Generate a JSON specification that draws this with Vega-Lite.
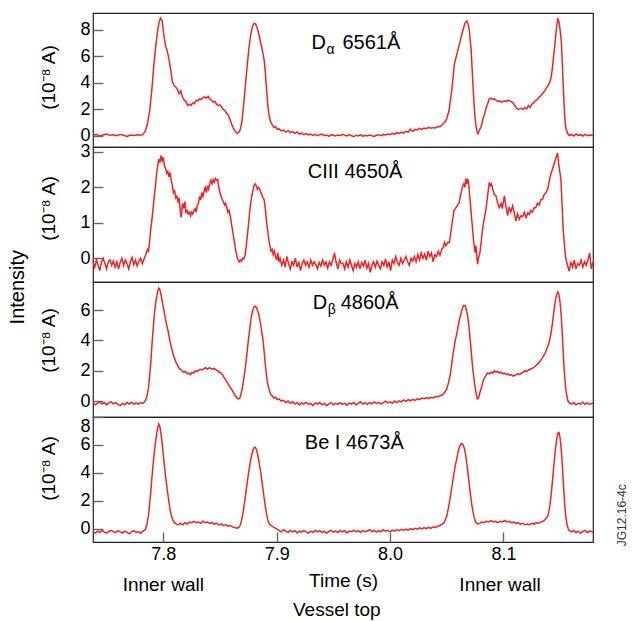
{
"$schema":"https://vega.github.io/schema/vega-lite/v6.json",
"padding":{"left":7,"top":12,"right":0,"bottom":0},
"bounds":"flush",
"spacing":0,
"config":{"font":"Liberation Sans","view":{"stroke":"#222","strokeWidth":1.2},
"axis":{"grid":false,"domain":false,"tickSize":-10,"tickColor":"#666","tickWidth":1.4,"labelFontSize":18,"labelColor":"#000","labelPadding":13,"titleFontSize":19,"titleFontWeight":"normal","titleColor":"#000","labelOverlap":false}},
"datasets":{
"da":[{"t":7.738,"v":0.05},{"t":7.741,"v":0.12},{"t":7.744,"v":-0.02},{"t":7.747,"v":0.08},{"t":7.75,"v":0.15},{"t":7.753,"v":0.05},{"t":7.756,"v":0.1},{"t":7.759,"v":0.02},{"t":7.762,"v":0.12},{"t":7.765,"v":0.06},{"t":7.768,"v":-0.03},{"t":7.771,"v":0.08},{"t":7.774,"v":0.04},{"t":7.777,"v":0.1},{"t":7.78,"v":0.05},{"t":7.782,"v":0.12},{"t":7.784,"v":0.35},{"t":7.786,"v":0.9},{"t":7.788,"v":1.9},{"t":7.79,"v":3.6},{"t":7.7915,"v":5.2},{"t":7.793,"v":6.5},{"t":7.7945,"v":7.6},{"t":7.796,"v":8.5},{"t":7.7975,"v":8.9},{"t":7.799,"v":8.7},{"t":7.8005,"v":7.6},{"t":7.802,"v":6.8},{"t":7.8035,"v":6.4},{"t":7.805,"v":5.8},{"t":7.8065,"v":5.0},{"t":7.808,"v":4.1},{"t":7.8095,"v":3.8},{"t":7.811,"v":3.7},{"t":7.8125,"v":3.5},{"t":7.814,"v":3.2},{"t":7.8155,"v":3.4},{"t":7.817,"v":2.9},{"t":7.8185,"v":2.7},{"t":7.82,"v":2.6},{"t":7.8215,"v":2.3},{"t":7.823,"v":2.4},{"t":7.8245,"v":2.3},{"t":7.826,"v":2.5},{"t":7.8275,"v":2.45},{"t":7.829,"v":2.7},{"t":7.8305,"v":2.65},{"t":7.832,"v":2.8},{"t":7.8335,"v":2.75},{"t":7.835,"v":2.9},{"t":7.8365,"v":2.95},{"t":7.838,"v":2.85},{"t":7.8395,"v":3.0},{"t":7.841,"v":2.8},{"t":7.8425,"v":2.7},{"t":7.844,"v":2.55},{"t":7.8455,"v":2.6},{"t":7.847,"v":2.4},{"t":7.8485,"v":2.3},{"t":7.85,"v":2.35},{"t":7.8515,"v":2.15},{"t":7.853,"v":2.0},{"t":7.8545,"v":1.9},{"t":7.856,"v":1.7},{"t":7.8575,"v":1.55},{"t":7.859,"v":1.2},{"t":7.8605,"v":0.85},{"t":7.862,"v":0.55},{"t":7.8635,"v":0.35},{"t":7.865,"v":0.2},{"t":7.8665,"v":0.25},{"t":7.868,"v":0.5},{"t":7.8695,"v":1.2},{"t":7.871,"v":2.5},{"t":7.8725,"v":3.9},{"t":7.874,"v":5.3},{"t":7.8755,"v":6.6},{"t":7.877,"v":7.6},{"t":7.8785,"v":8.2},{"t":7.88,"v":8.5},{"t":7.8815,"v":8.45},{"t":7.883,"v":8.1},{"t":7.8845,"v":7.6},{"t":7.886,"v":7.0},{"t":7.8875,"v":6.4},{"t":7.889,"v":5.7},{"t":7.89,"v":4.8},{"t":7.891,"v":3.6},{"t":7.892,"v":2.5},{"t":7.893,"v":1.7},{"t":7.8945,"v":1.1},{"t":7.896,"v":0.85},{"t":7.8975,"v":0.65},{"t":7.899,"v":0.7},{"t":7.9005,"v":0.5},{"t":7.902,"v":0.55},{"t":7.904,"v":0.38},{"t":7.906,"v":0.45},{"t":7.908,"v":0.3},{"t":7.91,"v":0.4},{"t":7.912,"v":0.25},{"t":7.914,"v":0.35},{"t":7.916,"v":0.2},{"t":7.918,"v":0.3},{"t":7.92,"v":0.15},{"t":7.922,"v":0.22},{"t":7.924,"v":0.1},{"t":7.926,"v":0.18},{"t":7.928,"v":0.08},{"t":7.93,"v":0.15},{"t":7.932,"v":0.05},{"t":7.934,"v":0.12},{"t":7.936,"v":0.02},{"t":7.938,"v":0.1},{"t":7.94,"v":0.15},{"t":7.942,"v":0.03},{"t":7.944,"v":0.08},{"t":7.946,"v":-0.02},{"t":7.948,"v":0.1},{"t":7.95,"v":0.05},{"t":7.952,"v":0.0},{"t":7.954,"v":0.08},{"t":7.956,"v":0.02},{"t":7.958,"v":0.12},{"t":7.96,"v":0.05},{"t":7.962,"v":0.0},{"t":7.964,"v":0.1},{"t":7.966,"v":0.02},{"t":7.968,"v":-0.05},{"t":7.97,"v":0.06},{"t":7.972,"v":0.0},{"t":7.974,"v":0.1},{"t":7.976,"v":-0.03},{"t":7.978,"v":0.05},{"t":7.98,"v":0.0},{"t":7.982,"v":0.08},{"t":7.984,"v":0.02},{"t":7.986,"v":-0.03},{"t":7.988,"v":0.06},{"t":7.99,"v":0.1},{"t":7.992,"v":0.03},{"t":7.994,"v":0.12},{"t":7.996,"v":0.08},{"t":7.998,"v":0.15},{"t":8.0,"v":0.1},{"t":8.002,"v":0.2},{"t":8.004,"v":0.12},{"t":8.006,"v":0.25},{"t":8.008,"v":0.2},{"t":8.01,"v":0.3},{"t":8.012,"v":0.22},{"t":8.014,"v":0.35},{"t":8.016,"v":0.3},{"t":8.018,"v":0.5},{"t":8.02,"v":0.35},{"t":8.022,"v":0.5},{"t":8.024,"v":0.45},{"t":8.026,"v":0.58},{"t":8.028,"v":0.5},{"t":8.03,"v":0.6},{"t":8.032,"v":0.55},{"t":8.034,"v":0.65},{"t":8.036,"v":0.58},{"t":8.038,"v":0.63},{"t":8.04,"v":0.6},{"t":8.042,"v":0.72},{"t":8.044,"v":0.7},{"t":8.046,"v":0.85},{"t":8.048,"v":1.0},{"t":8.05,"v":1.3},{"t":8.052,"v":1.9},{"t":8.0545,"v":3.5},{"t":8.0567,"v":5.4},{"t":8.0596,"v":6.4},{"t":8.062,"v":7.2},{"t":8.064,"v":7.9},{"t":8.066,"v":8.5},{"t":8.0676,"v":8.68},{"t":8.069,"v":8.4},{"t":8.07,"v":7.9},{"t":8.0715,"v":6.5},{"t":8.0728,"v":4.4},{"t":8.074,"v":2.5},{"t":8.0752,"v":1.13},{"t":8.0765,"v":0.4},{"t":8.0775,"v":0.17},{"t":8.079,"v":0.45},{"t":8.0805,"v":0.75},{"t":8.082,"v":1.3},{"t":8.0835,"v":1.7},{"t":8.085,"v":2.2},{"t":8.086,"v":2.4},{"t":8.0875,"v":2.8},{"t":8.089,"v":2.85},{"t":8.0905,"v":2.75},{"t":8.092,"v":2.8},{"t":8.0935,"v":2.7},{"t":8.095,"v":2.6},{"t":8.0965,"v":2.65},{"t":8.098,"v":2.55},{"t":8.0995,"v":2.6},{"t":8.101,"v":2.65},{"t":8.1025,"v":2.6},{"t":8.104,"v":2.7},{"t":8.1055,"v":2.65},{"t":8.107,"v":2.6},{"t":8.1085,"v":2.5},{"t":8.11,"v":2.3},{"t":8.1115,"v":2.1},{"t":8.113,"v":2.0},{"t":8.1145,"v":2.05},{"t":8.116,"v":2.1},{"t":8.1175,"v":2.0},{"t":8.119,"v":2.15},{"t":8.1205,"v":2.05},{"t":8.122,"v":2.3},{"t":8.1235,"v":2.15},{"t":8.125,"v":2.4},{"t":8.1265,"v":2.5},{"t":8.128,"v":2.65},{"t":8.1295,"v":2.7},{"t":8.131,"v":2.9},{"t":8.1325,"v":3.0},{"t":8.134,"v":3.15},{"t":8.1355,"v":3.3},{"t":8.137,"v":3.5},{"t":8.1385,"v":3.7},{"t":8.14,"v":3.9},{"t":8.141,"v":4.1},{"t":8.142,"v":4.4},{"t":8.143,"v":5.0},{"t":8.144,"v":5.8},{"t":8.145,"v":6.6},{"t":8.146,"v":7.5},{"t":8.147,"v":8.3},{"t":8.148,"v":8.88},{"t":8.149,"v":8.6},{"t":8.15,"v":8.0},{"t":8.151,"v":7.2},{"t":8.152,"v":5.4},{"t":8.153,"v":3.3},{"t":8.154,"v":1.5},{"t":8.155,"v":0.6},{"t":8.1565,"v":0.2},{"t":8.158,"v":0.05},{"t":8.16,"v":0.1},{"t":8.162,"v":0.0},{"t":8.164,"v":0.15},{"t":8.166,"v":0.05},{"t":8.168,"v":0.1},{"t":8.17,"v":0.0},{"t":8.172,"v":0.12},{"t":8.174,"v":0.03},{"t":8.176,"v":0.08},{"t":8.179,"v":0.05}],
"c3":[{"t":7.738,"v":-0.1},{"t":7.7395,"v":-0.25},{"t":7.741,"v":-0.05},{"t":7.7425,"v":-0.2},{"t":7.744,"v":-0.35},{"t":7.7455,"v":-0.1},{"t":7.747,"v":0.0},{"t":7.7485,"v":-0.15},{"t":7.75,"v":-0.3},{"t":7.7515,"v":-0.1},{"t":7.753,"v":-0.05},{"t":7.7545,"v":-0.2},{"t":7.756,"v":-0.08},{"t":7.7575,"v":-0.25},{"t":7.759,"v":-0.1},{"t":7.7605,"v":-0.3},{"t":7.762,"v":-0.12},{"t":7.7635,"v":0.0},{"t":7.765,"v":-0.2},{"t":7.7665,"v":-0.05},{"t":7.768,"v":-0.15},{"t":7.7695,"v":-0.3},{"t":7.771,"v":-0.1},{"t":7.7725,"v":0.02},{"t":7.774,"v":-0.18},{"t":7.7755,"v":-0.05},{"t":7.777,"v":-0.22},{"t":7.7785,"v":-0.08},{"t":7.78,"v":0.0},{"t":7.7815,"v":-0.15},{"t":7.783,"v":-0.02},{"t":7.7845,"v":0.1},{"t":7.786,"v":0.25},{"t":7.787,"v":0.2},{"t":7.788,"v":0.5},{"t":7.789,"v":0.85},{"t":7.79,"v":1.1},{"t":7.791,"v":1.4},{"t":7.792,"v":1.75},{"t":7.793,"v":2.0},{"t":7.794,"v":2.35},{"t":7.795,"v":2.6},{"t":7.796,"v":2.8},{"t":7.797,"v":2.7},{"t":7.798,"v":2.9},{"t":7.799,"v":2.75},{"t":7.8,"v":2.85},{"t":7.801,"v":2.6},{"t":7.802,"v":2.55},{"t":7.803,"v":2.4},{"t":7.804,"v":2.45},{"t":7.805,"v":2.3},{"t":7.806,"v":2.42},{"t":7.807,"v":2.2},{"t":7.808,"v":2.05},{"t":7.809,"v":1.85},{"t":7.81,"v":1.9},{"t":7.811,"v":1.7},{"t":7.812,"v":1.75},{"t":7.813,"v":1.6},{"t":7.814,"v":1.7},{"t":7.815,"v":1.35},{"t":7.8158,"v":1.15},{"t":7.817,"v":1.55},{"t":7.818,"v":1.4},{"t":7.819,"v":1.6},{"t":7.82,"v":1.3},{"t":7.821,"v":1.35},{"t":7.822,"v":1.25},{"t":7.823,"v":1.3},{"t":7.824,"v":1.2},{"t":7.825,"v":1.3},{"t":7.826,"v":1.25},{"t":7.827,"v":1.35},{"t":7.828,"v":1.4},{"t":7.829,"v":1.3},{"t":7.83,"v":1.5},{"t":7.831,"v":1.55},{"t":7.832,"v":1.75},{"t":7.833,"v":1.65},{"t":7.834,"v":1.85},{"t":7.835,"v":1.75},{"t":7.836,"v":1.9},{"t":7.837,"v":2.0},{"t":7.838,"v":1.85},{"t":7.839,"v":2.05},{"t":7.84,"v":1.95},{"t":7.841,"v":2.1},{"t":7.842,"v":2.2},{"t":7.843,"v":2.1},{"t":7.844,"v":2.22},{"t":7.845,"v":2.15},{"t":7.846,"v":2.25},{"t":7.847,"v":2.2},{"t":7.848,"v":2.22},{"t":7.849,"v":2.0},{"t":7.85,"v":1.85},{"t":7.851,"v":1.75},{"t":7.852,"v":1.65},{"t":7.853,"v":1.6},{"t":7.854,"v":1.5},{"t":7.855,"v":1.55},{"t":7.856,"v":1.45},{"t":7.857,"v":1.3},{"t":7.858,"v":1.35},{"t":7.859,"v":1.2},{"t":7.86,"v":1.0},{"t":7.861,"v":0.8},{"t":7.862,"v":0.6},{"t":7.863,"v":0.4},{"t":7.864,"v":0.2},{"t":7.865,"v":0.05},{"t":7.866,"v":-0.05},{"t":7.867,"v":-0.1},{"t":7.868,"v":-0.05},{"t":7.869,"v":-0.08},{"t":7.87,"v":0.0},{"t":7.871,"v":-0.02},{"t":7.872,"v":0.06},{"t":7.873,"v":0.3},{"t":7.874,"v":0.6},{"t":7.875,"v":0.9},{"t":7.876,"v":1.25},{"t":7.877,"v":1.55},{"t":7.878,"v":1.75},{"t":7.879,"v":1.9},{"t":7.88,"v":2.05},{"t":7.881,"v":2.1},{"t":7.882,"v":2.05},{"t":7.883,"v":1.95},{"t":7.884,"v":2.0},{"t":7.885,"v":1.95},{"t":7.886,"v":1.85},{"t":7.887,"v":1.8},{"t":7.888,"v":1.7},{"t":7.889,"v":1.65},{"t":7.89,"v":1.4},{"t":7.891,"v":1.05},{"t":7.892,"v":0.8},{"t":7.893,"v":0.55},{"t":7.894,"v":0.35},{"t":7.895,"v":0.2},{"t":7.896,"v":0.25},{"t":7.897,"v":0.1},{"t":7.898,"v":0.2},{"t":7.899,"v":0.05},{"t":7.9,"v":-0.05},{"t":7.901,"v":0.15},{"t":7.902,"v":-0.1},{"t":7.903,"v":0.0},{"t":7.9045,"v":-0.2},{"t":7.906,"v":-0.05},{"t":7.9075,"v":-0.25},{"t":7.909,"v":0.05},{"t":7.9105,"v":-0.15},{"t":7.912,"v":-0.3},{"t":7.9135,"v":-0.1},{"t":7.915,"v":-0.2},{"t":7.9165,"v":0.0},{"t":7.918,"v":-0.25},{"t":7.9195,"v":-0.1},{"t":7.921,"v":-0.35},{"t":7.9225,"v":-0.15},{"t":7.924,"v":-0.05},{"t":7.9255,"v":-0.2},{"t":7.927,"v":-0.1},{"t":7.9285,"v":-0.25},{"t":7.93,"v":-0.05},{"t":7.9315,"v":-0.2},{"t":7.933,"v":-0.1},{"t":7.9345,"v":-0.18},{"t":7.936,"v":-0.3},{"t":7.9375,"v":-0.12},{"t":7.939,"v":-0.22},{"t":7.9405,"v":-0.05},{"t":7.942,"v":-0.2},{"t":7.9435,"v":-0.1},{"t":7.945,"v":-0.28},{"t":7.9465,"v":-0.1},{"t":7.948,"v":-0.2},{"t":7.9495,"v":-0.05},{"t":7.951,"v":0.15},{"t":7.9525,"v":-0.12},{"t":7.954,"v":-0.3},{"t":7.9555,"v":-0.05},{"t":7.957,"v":-0.15},{"t":7.9585,"v":-0.15},{"t":7.96,"v":-0.3},{"t":7.9615,"v":-0.1},{"t":7.963,"v":-0.25},{"t":7.9645,"v":-0.05},{"t":7.966,"v":-0.2},{"t":7.9675,"v":-0.35},{"t":7.969,"v":-0.15},{"t":7.9705,"v":-0.25},{"t":7.972,"v":-0.1},{"t":7.9735,"v":-0.3},{"t":7.975,"v":-0.12},{"t":7.9765,"v":-0.22},{"t":7.978,"v":-0.05},{"t":7.9795,"v":-0.28},{"t":7.981,"v":-0.15},{"t":7.9825,"v":-0.4},{"t":7.984,"v":-0.2},{"t":7.9855,"v":-0.1},{"t":7.987,"v":-0.25},{"t":7.9885,"v":-0.08},{"t":7.99,"v":-0.2},{"t":7.9915,"v":-0.3},{"t":7.993,"v":-0.1},{"t":7.9945,"v":-0.2},{"t":7.996,"v":-0.02},{"t":7.9975,"v":-0.25},{"t":7.999,"v":-0.1},{"t":8.0005,"v":-0.35},{"t":8.002,"v":-0.05},{"t":8.0035,"v":-0.15},{"t":8.005,"v":0.05},{"t":8.0065,"v":-0.12},{"t":8.008,"v":-0.2},{"t":8.0095,"v":0.0},{"t":8.011,"v":-0.15},{"t":8.0125,"v":-0.05},{"t":8.014,"v":0.05},{"t":8.0155,"v":-0.1},{"t":8.017,"v":-0.2},{"t":8.0185,"v":0.0},{"t":8.02,"v":-0.08},{"t":8.0215,"v":0.05},{"t":8.023,"v":-0.1},{"t":8.0245,"v":0.1},{"t":8.026,"v":-0.05},{"t":8.0275,"v":0.15},{"t":8.029,"v":0.0},{"t":8.0305,"v":0.12},{"t":8.032,"v":-0.05},{"t":8.0335,"v":0.2},{"t":8.035,"v":0.05},{"t":8.0365,"v":0.15},{"t":8.038,"v":-0.1},{"t":8.0395,"v":0.1},{"t":8.041,"v":0.05},{"t":8.0425,"v":0.2},{"t":8.044,"v":0.08},{"t":8.0455,"v":0.25},{"t":8.047,"v":0.3},{"t":8.048,"v":0.45},{"t":8.0493,"v":0.35},{"t":8.051,"v":0.45},{"t":8.0523,"v":0.44},{"t":8.0535,"v":0.7},{"t":8.0552,"v":1.1},{"t":8.0565,"v":1.35},{"t":8.0581,"v":1.43},{"t":8.0595,"v":1.5},{"t":8.061,"v":1.57},{"t":8.062,"v":1.75},{"t":8.063,"v":1.9},{"t":8.064,"v":2.04},{"t":8.065,"v":2.1},{"t":8.066,"v":2.0},{"t":8.0668,"v":2.25},{"t":8.0676,"v":2.1},{"t":8.0685,"v":2.25},{"t":8.0695,"v":2.05},{"t":8.07,"v":1.85},{"t":8.071,"v":1.5},{"t":8.072,"v":1.1},{"t":8.0728,"v":0.82},{"t":8.0738,"v":0.45},{"t":8.075,"v":0.16},{"t":8.0758,"v":0.35},{"t":8.0765,"v":0.05},{"t":8.0772,"v":-0.17},{"t":8.078,"v":0.0},{"t":8.0793,"v":0.16},{"t":8.0805,"v":0.5},{"t":8.0816,"v":0.82},{"t":8.083,"v":1.1},{"t":8.0846,"v":1.38},{"t":8.086,"v":1.75},{"t":8.0875,"v":2.14},{"t":8.0885,"v":2.05},{"t":8.0895,"v":2.1},{"t":8.0905,"v":1.95},{"t":8.092,"v":1.8},{"t":8.0934,"v":1.76},{"t":8.095,"v":1.55},{"t":8.0963,"v":1.43},{"t":8.098,"v":1.55},{"t":8.099,"v":1.4},{"t":8.1008,"v":1.76},{"t":8.102,"v":1.5},{"t":8.1037,"v":1.2},{"t":8.105,"v":1.45},{"t":8.1065,"v":1.3},{"t":8.1081,"v":1.48},{"t":8.1095,"v":1.3},{"t":8.111,"v":1.05},{"t":8.1125,"v":1.25},{"t":8.114,"v":1.1},{"t":8.1155,"v":1.2},{"t":8.117,"v":1.18},{"t":8.1185,"v":1.3},{"t":8.12,"v":1.15},{"t":8.1215,"v":1.28},{"t":8.1228,"v":1.24},{"t":8.124,"v":1.35},{"t":8.1255,"v":1.3},{"t":8.127,"v":1.42},{"t":8.1286,"v":1.43},{"t":8.13,"v":1.55},{"t":8.1315,"v":1.5},{"t":8.133,"v":1.65},{"t":8.1345,"v":1.67},{"t":8.136,"v":1.8},{"t":8.1375,"v":1.85},{"t":8.139,"v":1.95},{"t":8.1405,"v":2.2},{"t":8.142,"v":2.4},{"t":8.1433,"v":2.51},{"t":8.145,"v":2.7},{"t":8.1465,"v":2.85},{"t":8.1477,"v":2.97},{"t":8.149,"v":2.6},{"t":8.1507,"v":2.23},{"t":8.1527,"v":0.82},{"t":8.154,"v":0.3},{"t":8.155,"v":0.0},{"t":8.1565,"v":-0.2},{"t":8.158,"v":-0.36},{"t":8.1595,"v":-0.1},{"t":8.161,"v":-0.25},{"t":8.1625,"v":-0.05},{"t":8.164,"v":-0.3},{"t":8.1655,"v":-0.15},{"t":8.167,"v":-0.2},{"t":8.1685,"v":-0.05},{"t":8.17,"v":-0.25},{"t":8.1715,"v":-0.1},{"t":8.173,"v":-0.2},{"t":8.1745,"v":-0.05},{"t":8.176,"v":0.15},{"t":8.1775,"v":-0.3},{"t":8.179,"v":-0.1}],
"db":[{"t":7.738,"v":-0.1},{"t":7.74,"v":-0.25},{"t":7.742,"v":-0.15},{"t":7.744,"v":-0.05},{"t":7.746,"v":-0.2},{"t":7.748,"v":-0.1},{"t":7.75,"v":-0.25},{"t":7.752,"v":-0.12},{"t":7.754,"v":-0.05},{"t":7.756,"v":-0.18},{"t":7.758,"v":-0.1},{"t":7.76,"v":-0.22},{"t":7.762,"v":-0.3},{"t":7.764,"v":-0.15},{"t":7.766,"v":-0.25},{"t":7.768,"v":-0.1},{"t":7.77,"v":-0.2},{"t":7.772,"v":-0.08},{"t":7.774,"v":-0.22},{"t":7.776,"v":-0.12},{"t":7.778,"v":-0.2},{"t":7.78,"v":-0.1},{"t":7.782,"v":-0.15},{"t":7.784,"v":0.0},{"t":7.7855,"v":0.3},{"t":7.787,"v":0.9},{"t":7.788,"v":1.7},{"t":7.789,"v":2.6},{"t":7.79,"v":3.7},{"t":7.791,"v":4.7},{"t":7.792,"v":5.6},{"t":7.793,"v":6.3},{"t":7.794,"v":6.8},{"t":7.795,"v":7.2},{"t":7.796,"v":7.45},{"t":7.797,"v":7.35},{"t":7.798,"v":7.0},{"t":7.799,"v":6.6},{"t":7.8,"v":6.2},{"t":7.801,"v":5.8},{"t":7.802,"v":5.4},{"t":7.803,"v":5.0},{"t":7.804,"v":4.7},{"t":7.805,"v":4.3},{"t":7.806,"v":3.9},{"t":7.807,"v":3.6},{"t":7.808,"v":3.3},{"t":7.809,"v":3.0},{"t":7.81,"v":2.8},{"t":7.811,"v":2.6},{"t":7.812,"v":2.45},{"t":7.813,"v":2.3},{"t":7.814,"v":2.15},{"t":7.815,"v":2.1},{"t":7.8165,"v":2.0},{"t":7.818,"v":1.9},{"t":7.8195,"v":1.95},{"t":7.821,"v":1.8},{"t":7.8225,"v":1.85},{"t":7.824,"v":1.75},{"t":7.8255,"v":1.9},{"t":7.827,"v":1.85},{"t":7.8285,"v":2.0},{"t":7.83,"v":1.95},{"t":7.8315,"v":2.05},{"t":7.833,"v":2.1},{"t":7.8345,"v":2.05},{"t":7.836,"v":2.15},{"t":7.8375,"v":2.2},{"t":7.839,"v":2.1},{"t":7.8405,"v":2.2},{"t":7.842,"v":2.15},{"t":7.8435,"v":2.1},{"t":7.845,"v":2.15},{"t":7.8465,"v":2.05},{"t":7.848,"v":2.0},{"t":7.8495,"v":1.9},{"t":7.851,"v":1.85},{"t":7.8525,"v":1.7},{"t":7.854,"v":1.5},{"t":7.8555,"v":1.35},{"t":7.857,"v":1.15},{"t":7.8585,"v":0.95},{"t":7.86,"v":0.8},{"t":7.8615,"v":0.6},{"t":7.863,"v":0.4},{"t":7.8645,"v":0.25},{"t":7.866,"v":0.13},{"t":7.8675,"v":0.2},{"t":7.869,"v":0.6},{"t":7.87,"v":1.0},{"t":7.871,"v":1.5},{"t":7.872,"v":2.0},{"t":7.873,"v":2.6},{"t":7.874,"v":3.3},{"t":7.875,"v":4.0},{"t":7.876,"v":4.6},{"t":7.877,"v":5.2},{"t":7.878,"v":5.7},{"t":7.879,"v":6.0},{"t":7.88,"v":6.2},{"t":7.881,"v":6.25},{"t":7.882,"v":6.2},{"t":7.883,"v":6.0},{"t":7.884,"v":5.8},{"t":7.885,"v":5.4},{"t":7.886,"v":5.0},{"t":7.887,"v":4.5},{"t":7.888,"v":4.0},{"t":7.889,"v":3.2},{"t":7.89,"v":2.4},{"t":7.891,"v":1.7},{"t":7.892,"v":1.2},{"t":7.893,"v":0.85},{"t":7.894,"v":0.6},{"t":7.895,"v":0.4},{"t":7.896,"v":0.35},{"t":7.8975,"v":0.2},{"t":7.899,"v":0.25},{"t":7.9005,"v":0.1},{"t":7.902,"v":0.15},{"t":7.904,"v":0.0},{"t":7.906,"v":0.05},{"t":7.908,"v":-0.1},{"t":7.91,"v":0.0},{"t":7.912,"v":-0.15},{"t":7.914,"v":-0.05},{"t":7.916,"v":-0.2},{"t":7.918,"v":-0.1},{"t":7.92,"v":-0.25},{"t":7.922,"v":-0.12},{"t":7.924,"v":-0.2},{"t":7.926,"v":-0.08},{"t":7.928,"v":-0.22},{"t":7.93,"v":-0.15},{"t":7.932,"v":-0.3},{"t":7.934,"v":-0.12},{"t":7.936,"v":-0.2},{"t":7.938,"v":-0.1},{"t":7.94,"v":-0.25},{"t":7.942,"v":-0.15},{"t":7.944,"v":-0.3},{"t":7.946,"v":-0.18},{"t":7.948,"v":-0.1},{"t":7.95,"v":-0.25},{"t":7.952,"v":-0.15},{"t":7.954,"v":-0.2},{"t":7.956,"v":-0.1},{"t":7.958,"v":-0.22},{"t":7.96,"v":-0.15},{"t":7.962,"v":-0.28},{"t":7.964,"v":-0.12},{"t":7.966,"v":-0.2},{"t":7.968,"v":-0.1},{"t":7.97,"v":-0.25},{"t":7.972,"v":-0.15},{"t":7.974,"v":-0.05},{"t":7.976,"v":-0.2},{"t":7.978,"v":-0.12},{"t":7.98,"v":-0.22},{"t":7.982,"v":-0.1},{"t":7.984,"v":-0.18},{"t":7.986,"v":-0.05},{"t":7.988,"v":-0.15},{"t":7.99,"v":-0.08},{"t":7.992,"v":-0.2},{"t":7.994,"v":-0.1},{"t":7.996,"v":0.0},{"t":7.998,"v":-0.12},{"t":8.0,"v":-0.05},{"t":8.002,"v":-0.15},{"t":8.004,"v":0.0},{"t":8.006,"v":-0.1},{"t":8.008,"v":0.02},{"t":8.01,"v":-0.05},{"t":8.012,"v":0.08},{"t":8.014,"v":-0.02},{"t":8.016,"v":0.1},{"t":8.018,"v":0.02},{"t":8.02,"v":0.12},{"t":8.022,"v":0.05},{"t":8.024,"v":0.15},{"t":8.026,"v":0.1},{"t":8.028,"v":0.2},{"t":8.03,"v":0.15},{"t":8.032,"v":0.22},{"t":8.034,"v":0.18},{"t":8.036,"v":0.25},{"t":8.038,"v":0.2},{"t":8.04,"v":0.3},{"t":8.042,"v":0.28},{"t":8.044,"v":0.35},{"t":8.046,"v":0.4},{"t":8.048,"v":0.55},{"t":8.05,"v":0.8},{"t":8.0515,"v":1.2},{"t":8.053,"v":1.7},{"t":8.0545,"v":2.5},{"t":8.056,"v":3.3},{"t":8.0575,"v":4.0},{"t":8.059,"v":4.5},{"t":8.06,"v":4.9},{"t":8.061,"v":5.3},{"t":8.062,"v":5.6},{"t":8.063,"v":5.9},{"t":8.064,"v":6.15},{"t":8.065,"v":6.3},{"t":8.066,"v":6.3},{"t":8.067,"v":6.1},{"t":8.068,"v":5.8},{"t":8.069,"v":5.3},{"t":8.07,"v":4.6},{"t":8.071,"v":3.8},{"t":8.072,"v":2.9},{"t":8.073,"v":2.1},{"t":8.074,"v":1.5},{"t":8.075,"v":0.9},{"t":8.076,"v":0.45},{"t":8.077,"v":0.15},{"t":8.078,"v":0.2},{"t":8.079,"v":0.5},{"t":8.08,"v":0.75},{"t":8.081,"v":1.0},{"t":8.082,"v":1.3},{"t":8.083,"v":1.5},{"t":8.084,"v":1.6},{"t":8.085,"v":1.75},{"t":8.086,"v":1.85},{"t":8.0875,"v":1.8},{"t":8.089,"v":1.9},{"t":8.0905,"v":1.85},{"t":8.092,"v":2.0},{"t":8.0935,"v":1.9},{"t":8.095,"v":1.95},{"t":8.0965,"v":1.85},{"t":8.098,"v":1.9},{"t":8.0995,"v":1.8},{"t":8.101,"v":1.85},{"t":8.1025,"v":1.75},{"t":8.104,"v":1.8},{"t":8.1055,"v":1.7},{"t":8.107,"v":1.75},{"t":8.1085,"v":1.65},{"t":8.11,"v":1.7},{"t":8.1115,"v":1.75},{"t":8.113,"v":1.8},{"t":8.1145,"v":1.75},{"t":8.116,"v":1.85},{"t":8.1175,"v":1.9},{"t":8.119,"v":2.0},{"t":8.1205,"v":1.95},{"t":8.122,"v":2.05},{"t":8.1235,"v":2.1},{"t":8.125,"v":2.15},{"t":8.1265,"v":2.2},{"t":8.128,"v":2.3},{"t":8.1295,"v":2.4},{"t":8.131,"v":2.5},{"t":8.1325,"v":2.65},{"t":8.134,"v":2.8},{"t":8.1355,"v":3.0},{"t":8.137,"v":3.2},{"t":8.1385,"v":3.5},{"t":8.14,"v":3.8},{"t":8.141,"v":4.1},{"t":8.142,"v":4.5},{"t":8.143,"v":5.0},{"t":8.144,"v":5.6},{"t":8.145,"v":6.2},{"t":8.146,"v":6.7},{"t":8.147,"v":7.05},{"t":8.148,"v":7.2},{"t":8.149,"v":7.0},{"t":8.15,"v":6.5},{"t":8.151,"v":5.6},{"t":8.152,"v":4.3},{"t":8.153,"v":2.8},{"t":8.154,"v":1.6},{"t":8.155,"v":0.8},{"t":8.156,"v":0.3},{"t":8.157,"v":0.0},{"t":8.158,"v":-0.1},{"t":8.16,"v":-0.2},{"t":8.162,"v":-0.1},{"t":8.164,"v":-0.25},{"t":8.166,"v":-0.15},{"t":8.168,"v":-0.2},{"t":8.17,"v":-0.08},{"t":8.172,"v":-0.22},{"t":8.174,"v":-0.12},{"t":8.176,"v":-0.2},{"t":8.179,"v":-0.15}],
"be":[{"t":7.738,"v":-0.2},{"t":7.74,"v":-0.3},{"t":7.742,"v":-0.15},{"t":7.744,"v":-0.25},{"t":7.746,"v":-0.1},{"t":7.748,"v":-0.22},{"t":7.75,"v":-0.3},{"t":7.752,"v":-0.18},{"t":7.754,"v":-0.1},{"t":7.756,"v":-0.2},{"t":7.758,"v":-0.25},{"t":7.76,"v":-0.12},{"t":7.762,"v":-0.2},{"t":7.764,"v":-0.3},{"t":7.766,"v":-0.15},{"t":7.768,"v":-0.25},{"t":7.77,"v":-0.35},{"t":7.772,"v":-0.2},{"t":7.774,"v":-0.12},{"t":7.776,"v":-0.25},{"t":7.778,"v":-0.18},{"t":7.78,"v":-0.3},{"t":7.782,"v":-0.15},{"t":7.784,"v":-0.05},{"t":7.7855,"v":0.3},{"t":7.787,"v":1.0},{"t":7.788,"v":1.8},{"t":7.789,"v":2.7},{"t":7.79,"v":3.7},{"t":7.791,"v":4.6},{"t":7.792,"v":5.4},{"t":7.793,"v":6.1},{"t":7.794,"v":6.7},{"t":7.795,"v":7.2},{"t":7.796,"v":7.5},{"t":7.797,"v":7.3},{"t":7.798,"v":6.8},{"t":7.799,"v":6.1},{"t":7.8,"v":5.3},{"t":7.801,"v":4.5},{"t":7.802,"v":3.8},{"t":7.803,"v":3.1},{"t":7.804,"v":2.5},{"t":7.805,"v":1.9},{"t":7.806,"v":1.4},{"t":7.807,"v":1.0},{"t":7.808,"v":0.75},{"t":7.809,"v":0.55},{"t":7.81,"v":0.45},{"t":7.8115,"v":0.35},{"t":7.813,"v":0.3},{"t":7.815,"v":0.4},{"t":7.817,"v":0.3},{"t":7.819,"v":0.45},{"t":7.821,"v":0.35},{"t":7.823,"v":0.5},{"t":7.825,"v":0.45},{"t":7.827,"v":0.55},{"t":7.829,"v":0.45},{"t":7.831,"v":0.5},{"t":7.833,"v":0.4},{"t":7.835,"v":0.55},{"t":7.837,"v":0.45},{"t":7.839,"v":0.5},{"t":7.841,"v":0.4},{"t":7.843,"v":0.45},{"t":7.845,"v":0.35},{"t":7.847,"v":0.4},{"t":7.849,"v":0.3},{"t":7.851,"v":0.35},{"t":7.853,"v":0.25},{"t":7.855,"v":0.3},{"t":7.857,"v":0.2},{"t":7.859,"v":0.25},{"t":7.861,"v":0.15},{"t":7.863,"v":0.1},{"t":7.865,"v":0.05},{"t":7.8665,"v":0.1},{"t":7.868,"v":0.3},{"t":7.869,"v":0.6},{"t":7.87,"v":1.0},{"t":7.871,"v":1.5},{"t":7.872,"v":2.1},{"t":7.873,"v":2.7},{"t":7.874,"v":3.3},{"t":7.875,"v":3.9},{"t":7.876,"v":4.4},{"t":7.877,"v":4.9},{"t":7.878,"v":5.3},{"t":7.879,"v":5.6},{"t":7.88,"v":5.8},{"t":7.881,"v":5.85},{"t":7.882,"v":5.7},{"t":7.883,"v":5.4},{"t":7.884,"v":5.0},{"t":7.885,"v":4.5},{"t":7.886,"v":4.0},{"t":7.887,"v":3.4},{"t":7.888,"v":2.8},{"t":7.889,"v":2.2},{"t":7.89,"v":1.6},{"t":7.891,"v":1.1},{"t":7.892,"v":0.7},{"t":7.893,"v":0.45},{"t":7.894,"v":0.3},{"t":7.896,"v":0.2},{"t":7.898,"v":0.1},{"t":7.9,"v":0.0},{"t":7.902,"v":-0.1},{"t":7.904,"v":-0.2},{"t":7.906,"v":-0.05},{"t":7.908,"v":-0.15},{"t":7.91,"v":-0.25},{"t":7.912,"v":-0.1},{"t":7.914,"v":-0.2},{"t":7.916,"v":-0.12},{"t":7.918,"v":-0.28},{"t":7.92,"v":-0.15},{"t":7.922,"v":-0.22},{"t":7.924,"v":-0.1},{"t":7.926,"v":-0.2},{"t":7.928,"v":-0.3},{"t":7.93,"v":-0.15},{"t":7.932,"v":-0.25},{"t":7.934,"v":-0.1},{"t":7.936,"v":-0.2},{"t":7.938,"v":-0.12},{"t":7.94,"v":-0.25},{"t":7.942,"v":-0.15},{"t":7.944,"v":-0.3},{"t":7.946,"v":-0.18},{"t":7.948,"v":-0.1},{"t":7.95,"v":-0.22},{"t":7.952,"v":-0.15},{"t":7.954,"v":-0.25},{"t":7.956,"v":-0.1},{"t":7.958,"v":-0.2},{"t":7.96,"v":-0.12},{"t":7.962,"v":-0.28},{"t":7.964,"v":-0.15},{"t":7.966,"v":-0.2},{"t":7.968,"v":-0.08},{"t":7.97,"v":-0.2},{"t":7.972,"v":-0.12},{"t":7.974,"v":-0.25},{"t":7.976,"v":-0.1},{"t":7.978,"v":-0.2},{"t":7.98,"v":-0.15},{"t":7.982,"v":-0.05},{"t":7.984,"v":-0.18},{"t":7.986,"v":-0.1},{"t":7.988,"v":-0.22},{"t":7.99,"v":-0.12},{"t":7.992,"v":-0.2},{"t":7.994,"v":-0.05},{"t":7.996,"v":-0.15},{"t":7.998,"v":-0.1},{"t":8.0,"v":-0.2},{"t":8.002,"v":-0.08},{"t":8.004,"v":-0.15},{"t":8.006,"v":-0.05},{"t":8.008,"v":-0.12},{"t":8.01,"v":-0.02},{"t":8.012,"v":-0.1},{"t":8.014,"v":0.0},{"t":8.016,"v":-0.08},{"t":8.018,"v":0.02},{"t":8.02,"v":-0.05},{"t":8.022,"v":0.05},{"t":8.024,"v":-0.02},{"t":8.026,"v":0.08},{"t":8.028,"v":0.0},{"t":8.03,"v":0.1},{"t":8.032,"v":0.02},{"t":8.034,"v":0.12},{"t":8.036,"v":0.05},{"t":8.038,"v":0.15},{"t":8.04,"v":0.1},{"t":8.042,"v":0.2},{"t":8.044,"v":0.25},{"t":8.046,"v":0.35},{"t":8.048,"v":0.5},{"t":8.05,"v":0.9},{"t":8.0515,"v":1.5},{"t":8.053,"v":2.2},{"t":8.0545,"v":3.0},{"t":8.056,"v":3.8},{"t":8.0575,"v":4.5},{"t":8.059,"v":5.1},{"t":8.06,"v":5.5},{"t":8.061,"v":5.8},{"t":8.062,"v":6.0},{"t":8.063,"v":6.1},{"t":8.064,"v":6.05},{"t":8.065,"v":5.9},{"t":8.066,"v":5.6},{"t":8.067,"v":5.1},{"t":8.068,"v":4.5},{"t":8.069,"v":3.8},{"t":8.07,"v":3.1},{"t":8.071,"v":2.4},{"t":8.072,"v":1.8},{"t":8.073,"v":1.3},{"t":8.074,"v":0.9},{"t":8.075,"v":0.6},{"t":8.076,"v":0.45},{"t":8.0775,"v":0.35},{"t":8.079,"v":0.4},{"t":8.081,"v":0.5},{"t":8.083,"v":0.45},{"t":8.085,"v":0.55},{"t":8.087,"v":0.5},{"t":8.089,"v":0.6},{"t":8.091,"v":0.5},{"t":8.093,"v":0.55},{"t":8.095,"v":0.45},{"t":8.097,"v":0.55},{"t":8.099,"v":0.5},{"t":8.101,"v":0.6},{"t":8.103,"v":0.5},{"t":8.105,"v":0.55},{"t":8.107,"v":0.45},{"t":8.109,"v":0.5},{"t":8.111,"v":0.4},{"t":8.113,"v":0.45},{"t":8.115,"v":0.35},{"t":8.117,"v":0.4},{"t":8.119,"v":0.3},{"t":8.121,"v":0.35},{"t":8.123,"v":0.3},{"t":8.125,"v":0.4},{"t":8.127,"v":0.35},{"t":8.129,"v":0.45},{"t":8.131,"v":0.4},{"t":8.133,"v":0.5},{"t":8.135,"v":0.55},{"t":8.137,"v":0.7},{"t":8.139,"v":0.9},{"t":8.14,"v":1.2},{"t":8.141,"v":1.7},{"t":8.142,"v":2.4},{"t":8.143,"v":3.2},{"t":8.144,"v":4.1},{"t":8.145,"v":5.0},{"t":8.146,"v":5.8},{"t":8.147,"v":6.4},{"t":8.148,"v":6.85},{"t":8.149,"v":6.9},{"t":8.15,"v":6.5},{"t":8.151,"v":5.7},{"t":8.152,"v":4.5},{"t":8.153,"v":3.1},{"t":8.154,"v":1.8},{"t":8.155,"v":0.9},{"t":8.156,"v":0.35},{"t":8.157,"v":0.05},{"t":8.158,"v":-0.1},{"t":8.16,"v":-0.2},{"t":8.162,"v":-0.1},{"t":8.164,"v":-0.25},{"t":8.166,"v":-0.15},{"t":8.168,"v":-0.3},{"t":8.17,"v":-0.18},{"t":8.172,"v":-0.1},{"t":8.174,"v":-0.25},{"t":8.176,"v":-0.15},{"t":8.179,"v":-0.22}]
},
"vconcat":[
{"width":500,"height":134,
"layer":[
{"data":{"name":"da"},"mark":{"type":"line","color":"#ee2424","strokeWidth":1.5},
"encoding":{"x":{"field":"t","type":"quantitative","scale":{"domain":[7.738,8.179],"nice":false,"zero":false},"axis":null},
"y":{"field":"v","type":"quantitative","scale":{"domain":[-0.83,9.28],"nice":false,"zero":false},"axis":{"values":[0,2,4,6,8],"title":"(10⁻⁸ A)","titleX":-35,"titleY":64}}}},
{"data":{"values":[{"label":"D"}]},"mark":{"type":"text","align":"left","baseline":"alphabetic","fontSize":20,"color":"#000"},
"encoding":{"x":{"datum":7.9307,"type":"quantitative","scale":{"domain":[7.738,8.179],"nice":false,"zero":false},"axis":null},"y":{"datum":6.54,"type":"quantitative","scale":{"domain":[-0.83,9.28],"nice":false,"zero":false},"axis":{"values":[0,2,4,6,8],"title":"(10⁻⁸ A)","titleX":-35,"titleY":64}},"text":{"field":"label"}}},
{"data":{"values":[{"label":"α"}]},"mark":{"type":"text","align":"left","baseline":"alphabetic","fontSize":14,"dx":15,"dy":5,"color":"#000"},
"encoding":{"x":{"datum":7.9307,"type":"quantitative","scale":{"domain":[7.738,8.179],"nice":false,"zero":false},"axis":null},"y":{"datum":6.54,"type":"quantitative","scale":{"domain":[-0.83,9.28],"nice":false,"zero":false},"axis":{"values":[0,2,4,6,8],"title":"(10⁻⁸ A)","titleX":-35,"titleY":64}},"text":{"field":"label"}}},
{"data":{"values":[{"label":"6561Å"}]},"mark":{"type":"text","align":"left","baseline":"alphabetic","fontSize":20,"dx":31,"color":"#000"},
"encoding":{"x":{"datum":7.9307,"type":"quantitative","scale":{"domain":[7.738,8.179],"nice":false,"zero":false},"axis":null},"y":{"datum":6.54,"type":"quantitative","scale":{"domain":[-0.83,9.28],"nice":false,"zero":false},"axis":{"values":[0,2,4,6,8],"title":"(10⁻⁸ A)","titleX":-35,"titleY":64}},"text":{"field":"label"}}}
]},
{"width":500,"height":135,
"layer":[
{"data":{"name":"c3"},"mark":{"type":"line","color":"#ee2424","strokeWidth":1.5},
"encoding":{"x":{"field":"t","type":"quantitative","scale":{"domain":[7.738,8.179],"nice":false,"zero":false},"axis":null},
"y":{"field":"v","type":"quantitative","scale":{"domain":[-0.67,3.14],"nice":false,"zero":false},"axis":{"values":[0,1,2,3],"title":"(10⁻⁸ A)","titleX":-35,"titleY":61}}}},
{"data":{"values":[{"label":"CIII 4650Å"}]},"mark":{"type":"text","align":"left","baseline":"alphabetic","fontSize":20,"color":"#000"},
"encoding":{"x":{"datum":7.9274,"type":"quantitative","scale":{"domain":[7.738,8.179],"nice":false,"zero":false},"axis":null},"y":{"datum":2.27,"type":"quantitative","scale":{"domain":[-0.67,3.14],"nice":false,"zero":false},"axis":{"values":[0,1,2,3],"title":"(10⁻⁸ A)","titleX":-35,"titleY":61}},"text":{"field":"label"}}}
]},
{"width":500,"height":135,
"layer":[
{"data":{"name":"db"},"mark":{"type":"line","color":"#ee2424","strokeWidth":1.5},
"encoding":{"x":{"field":"t","type":"quantitative","scale":{"domain":[7.738,8.179],"nice":false,"zero":false},"axis":null},
"y":{"field":"v","type":"quantitative","scale":{"domain":[-1.05,7.85],"nice":false,"zero":false},"axis":{"values":[0,2,4,6],"title":"(10⁻⁸ A)","titleX":-35,"titleY":58}}}},
{"data":{"values":[{"label":"D"}]},"mark":{"type":"text","align":"left","baseline":"alphabetic","fontSize":20,"color":"#000"},
"encoding":{"x":{"datum":7.9318,"type":"quantitative","scale":{"domain":[7.738,8.179],"nice":false,"zero":false},"axis":null},"y":{"datum":6.04,"type":"quantitative","scale":{"domain":[-1.05,7.85],"nice":false,"zero":false},"axis":{"values":[0,2,4,6],"title":"(10⁻⁸ A)","titleX":-35,"titleY":58}},"text":{"field":"label"}}},
{"data":{"values":[{"label":"β"}]},"mark":{"type":"text","align":"left","baseline":"alphabetic","fontSize":14,"dx":15,"dy":5,"color":"#000"},
"encoding":{"x":{"datum":7.9318,"type":"quantitative","scale":{"domain":[7.738,8.179],"nice":false,"zero":false},"axis":null},"y":{"datum":6.04,"type":"quantitative","scale":{"domain":[-1.05,7.85],"nice":false,"zero":false},"axis":{"values":[0,2,4,6],"title":"(10⁻⁸ A)","titleX":-35,"titleY":58}},"text":{"field":"label"}}},
{"data":{"values":[{"label":"4860Å"}]},"mark":{"type":"text","align":"left","baseline":"alphabetic","fontSize":20,"dx":28,"color":"#000"},
"encoding":{"x":{"datum":7.9318,"type":"quantitative","scale":{"domain":[7.738,8.179],"nice":false,"zero":false},"axis":null},"y":{"datum":6.04,"type":"quantitative","scale":{"domain":[-1.05,7.85],"nice":false,"zero":false},"axis":{"values":[0,2,4,6],"title":"(10⁻⁸ A)","titleX":-35,"titleY":58}},"text":{"field":"label"}}},
{"data":{"values":[{"label":"Intensity"}]},"mark":{"type":"text","align":"center","baseline":"alphabetic","fontSize":20,"angle":270,"color":"#000"},
"encoding":{"x":{"datum":7.6772,"type":"quantitative","scale":{"domain":[7.738,8.179],"nice":false,"zero":false},"axis":null},"y":{"datum":7.51,"type":"quantitative","scale":{"domain":[-1.05,7.85],"nice":false,"zero":false},"axis":{"values":[0,2,4,6],"title":"(10⁻⁸ A)","titleX":-35,"titleY":58}},"text":{"field":"label"}}}
]},
{"width":500,"height":125,
"layer":[
{"data":{"name":"be"},"mark":{"type":"line","color":"#ee2424","strokeWidth":1.5},
"encoding":{"x":{"field":"t","type":"quantitative","scale":{"domain":[7.738,8.179],"nice":false,"zero":false},"axis":{"values":[7.8,7.9,8.0,8.1],"format":".1f","title":"Time (s)","titleY":44,"titleBaseline":"alphabetic","labelFlush":false}},
"y":{"field":"v","type":"quantitative","scale":{"domain":[-0.93,8.0],"nice":false,"zero":false},"axis":{"values":[0,2,4,6,8],"title":"(10⁻⁸ A)","titleX":-35,"titleY":51,"labelFlush":true}}}},
{"data":{"values":[{"label":"Be I 4673Å"}]},"mark":{"type":"text","align":"left","baseline":"alphabetic","fontSize":20,"color":"#000"},
"encoding":{"x":{"datum":7.9248,"type":"quantitative","scale":{"domain":[7.738,8.179],"nice":false,"zero":false},"axis":{"values":[7.8,7.9,8.0,8.1],"format":".1f","title":"Time (s)","titleY":44,"titleBaseline":"alphabetic","labelFlush":false}},"y":{"datum":5.7,"type":"quantitative","scale":{"domain":[-0.93,8.0],"nice":false,"zero":false},"axis":{"values":[0,2,4,6,8],"title":"(10⁻⁸ A)","titleX":-35,"titleY":51,"labelFlush":true}},"text":{"field":"label"}}},
{"data":{"values":[{"label":"Inner wall","t":7.8},{"label":"Inner wall","t":8.097}]},"mark":{"type":"text","align":"center","baseline":"alphabetic","fontSize":19,"color":"#000"},
"encoding":{"x":{"field":"t","type":"quantitative","scale":{"domain":[7.738,8.179],"nice":false,"zero":false},"axis":{"values":[7.8,7.9,8.0,8.1],"format":".1f","title":"Time (s)","titleY":44,"titleBaseline":"alphabetic","labelFlush":false}},"y":{"datum":-4.4,"type":"quantitative","scale":{"domain":[-0.93,8.0],"nice":false,"zero":false},"axis":{"values":[0,2,4,6,8],"title":"(10⁻⁸ A)","titleX":-35,"titleY":51,"labelFlush":true}},"text":{"field":"label"}}},
{"data":{"values":[{"label":"Vessel top"}]},"mark":{"type":"text","align":"center","baseline":"alphabetic","fontSize":19,"color":"#000"},
"encoding":{"x":{"datum":7.953,"type":"quantitative","scale":{"domain":[7.738,8.179],"nice":false,"zero":false},"axis":{"values":[7.8,7.9,8.0,8.1],"format":".1f","title":"Time (s)","titleY":44,"titleBaseline":"alphabetic","labelFlush":false}},"y":{"datum":-6.24,"type":"quantitative","scale":{"domain":[-0.93,8.0],"nice":false,"zero":false},"axis":{"values":[0,2,4,6,8],"title":"(10⁻⁸ A)","titleX":-35,"titleY":51,"labelFlush":true}},"text":{"field":"label"}}},
{"data":{"values":[{"label":"JG12.16-4c"}]},"mark":{"type":"text","align":"center","baseline":"alphabetic","fontSize":12,"angle":270,"color":"#333"},
"encoding":{"x":{"datum":8.2085,"type":"quantitative","scale":{"domain":[7.738,8.179],"nice":false,"zero":false},"axis":{"values":[7.8,7.9,8.0,8.1],"format":".1f","title":"Time (s)","titleY":44,"titleBaseline":"alphabetic","labelFlush":false}},"y":{"datum":0.98,"type":"quantitative","scale":{"domain":[-0.93,8.0],"nice":false,"zero":false},"axis":{"values":[0,2,4,6,8],"title":"(10⁻⁸ A)","titleX":-35,"titleY":51,"labelFlush":true}},"text":{"field":"label"}}}
]}
]
}
